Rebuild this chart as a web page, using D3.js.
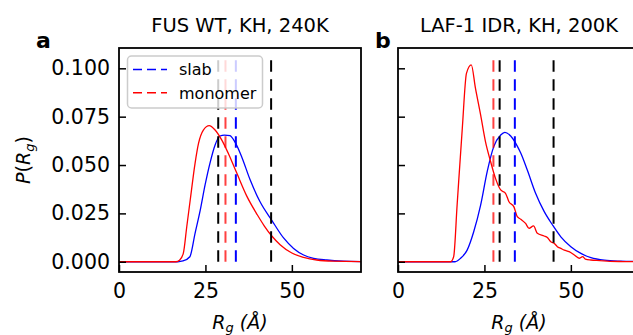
<!DOCTYPE html>
<html>
<head>
<meta charset="utf-8">
<script src="https://cdn.jsdelivr.net/npm/d3@7"></script>
<style>
  body { margin: 0; background: #fff; }
  svg { display: block; font-family: "DejaVu Sans", sans-serif; }
</style>
</head>
<body>
<div id="chart"></div>
<script>
// panel a: FUS WT, KH, 240K
const slabA_x = [0, 17, 18.5, 20.5, 22, 23.5, 24.9, 26.3, 27.8, 29.2, 30.5, 32.1, 33.6, 35.5, 37.9, 40.8, 44.2, 47.6, 50.5, 53.4, 56.3, 60.1, 64.9, 70];
const slabA_p = [0, 0, 0.0004, 0.0026, 0.0147, 0.0267, 0.0397, 0.0509, 0.0604, 0.065, 0.0655, 0.0652, 0.0617, 0.0542, 0.0425, 0.031, 0.0214, 0.0123, 0.0069, 0.0035, 0.0018, 0.0009, 0.0003, 0.0001];
const monoA_x = [0, 16.5, 17.5, 18.6, 19.6, 20.6, 22, 23, 24.4, 26.1, 27.8, 29.7, 31.6, 34.1, 37, 40, 42, 44.2, 46.6, 50, 53.4, 57.2, 62, 70];
const monoA_p = [0, 0, 0.0008, 0.0043, 0.0181, 0.0319, 0.0509, 0.0612, 0.0681, 0.0704, 0.0681, 0.063, 0.0561, 0.0457, 0.0338, 0.0243, 0.0186, 0.0133, 0.0088, 0.0045, 0.0023, 0.0009, 0.0003, 0.0001];

// panel b: LAF-1 IDR, KH, 200K
const slabB_x = [0, 16.5, 18.1, 20, 21.9, 23.9, 25.8, 27.7, 29.7, 30.9, 32.6, 34.5, 35.5, 37.4, 39.8, 42.3, 44.7, 47.1, 50, 52.9, 55.8, 59.7, 64.5, 70];
const slabB_p = [0, 0, 0.0018, 0.006, 0.0155, 0.0293, 0.0466, 0.0595, 0.0655, 0.0669, 0.065, 0.0598, 0.0562, 0.0474, 0.0354, 0.0259, 0.019, 0.0129, 0.0078, 0.0043, 0.0021, 0.0008, 0.0003, 0.0001];
const monoB_x = [0, 15.2, 16.1, 17.1, 18.6, 19.8, 21.2, 22.4, 23.9, 25.3, 26.8, 28.2, 29.7, 31.1, 32.1, 33.5, 34.5, 35.5, 36.9, 37.9, 39.2, 40.3, 42.3, 43.2, 44.2, 45.2, 46.1, 47.1, 48.1, 49.5, 51, 52.4, 53.4, 54.2, 55.8, 58.4, 61.3, 65, 70];
const monoB_p = [0, 0, 0.0026, 0.0293, 0.069, 0.0974, 0.1018, 0.0897, 0.0759, 0.0621, 0.0517, 0.0431, 0.0371, 0.0354, 0.031, 0.0285, 0.0233, 0.022, 0.0198, 0.0173, 0.0185, 0.0147, 0.0133, 0.0125, 0.0103, 0.0095, 0.0078, 0.0069, 0.006, 0.0052, 0.0035, 0.0018, 0.0026, 0.0014, 0.0009, 0.0006, 0.0002, 0.0001, 0];

// vertical dashed markers [Rg, colour]
const vlinesA = [[28.7, "black"], [30.8, "red"], [33.8, "blue"], [44.0, "black"]];
const vlinesB = [[27.6, "red"], [29.4, "black"], [33.8, "blue"], [45.0, "black"]];

const titles = ["FUS WT, KH, 240K", "LAF-1 IDR, KH, 200K"];
const letters = ["a", "b"];
const yTicks = [0, 0.025, 0.05, 0.075, 0.1];
const xTicks = [0, 25, 50];
const legendLabels = [["slab", "blue"], ["monomer", "red"]];

const W = 633, H = 335;
const svg = d3.select("#chart").append("svg").attr("width", W).attr("height", H);

const panels = [
  { left: 119, slabX: slabA_x, slabP: slabA_p, monoX: monoA_x, monoP: monoA_p, vlines: vlinesA, labels: true },
  { left: 398, slabX: slabB_x, slabP: slabB_p, monoX: monoB_x, monoP: monoB_p, vlines: vlinesB, labels: false }
];
const axTop = 48, axBottom = 272, axW = 242;
const y = d3.scaleLinear().domain([-0.0053, 0.1105]).range([axBottom, axTop]);

panels.forEach((p, i) => {
  const x = d3.scaleLinear().domain([0, 70]).range([p.left, p.left + axW]);
  const g = svg.append("g");

  const line = d3.line().curve(d3.curveMonotoneX).x(d => x(d[0])).y(d => y(d[1]));
  g.append("path").datum(d3.zip(p.slabX, p.slabP))
    .attr("d", line).attr("fill", "none").attr("stroke", "blue").attr("stroke-width", 1.3);
  g.append("path").datum(d3.zip(p.monoX, p.monoP))
    .attr("d", line).attr("fill", "none").attr("stroke", "red").attr("stroke-width", 1.3);

  g.selectAll("line.vl").data(p.vlines).enter().append("line")
    .attr("x1", d => x(d[0])).attr("x2", d => x(d[0]))
    .attr("y1", y(0)).attr("y2", y(0.105))
    .attr("stroke", d => d[1])
    .attr("stroke-opacity", d => d[1] === "red" ? 0.75 : 1)
    .attr("stroke-width", 2)
    .attr("stroke-dasharray", "11.5,7.5");

  // axes with inward ticks
  const yAx = g.append("g").attr("transform", `translate(${p.left},0)`)
    .call(d3.axisLeft(y).tickValues(yTicks).tickSize(-7).tickPadding(9)
      .tickFormat(p.labels ? d3.format(".3f") : () => ""));
  const xAx = g.append("g").attr("transform", `translate(0,${axBottom})`)
    .call(d3.axisBottom(x).tickValues(xTicks).tickSize(-7).tickPadding(11).tickFormat(d3.format("d")));
  [yAx, xAx].forEach(a => {
    a.select(".domain").remove();
    a.selectAll("line").attr("stroke", "black").attr("stroke-width", 1.5);
    a.selectAll("text").attr("font-size", 20.5).attr("fill", "black")
      .attr("font-family", "DejaVu Sans, sans-serif");
  });

  g.append("rect").attr("x", p.left).attr("y", axTop).attr("width", axW).attr("height", axBottom - axTop)
    .attr("fill", "none").attr("stroke", "black").attr("stroke-width", 1.8);

  g.append("text").attr("x", p.left + axW / 2).attr("y", 32).attr("text-anchor", "middle")
    .attr("font-size", 19.5).text(titles[i]);
  g.append("text").attr("x", i === 0 ? 36 : 375).attr("y", 48)
    .attr("font-size", 22).attr("font-weight", "bold").text(letters[i]);

  const xl = g.append("text").attr("x", p.left + axW / 2).attr("y", 329)
    .attr("text-anchor", "middle").attr("font-size", 19).attr("font-style", "italic");
  xl.append("tspan").text("R");
  xl.append("tspan").attr("font-size", 13).attr("dy", 3).text("g");
  xl.append("tspan").attr("dy", -3).text("\u00a0(\u00c5)");
});

// y label
const yl = svg.append("text").attr("transform", "translate(30,160) rotate(-90)")
  .attr("text-anchor", "middle").attr("font-size", 19);
yl.append("tspan").attr("font-style", "italic").text("P");
yl.append("tspan").text("(");
yl.append("tspan").attr("font-style", "italic").text("R");
yl.append("tspan").attr("font-style", "italic").attr("font-size", 13).attr("dy", 4).text("g");
yl.append("tspan").attr("dy", -4).text(")");

// legend in panel a
const lg = svg.append("g");
lg.append("rect").attr("x", 127.5).attr("y", 56).attr("width", 135).attr("height", 52).attr("rx", 4)
  .attr("fill", "white").attr("fill-opacity", 0.8).attr("stroke", "#cccccc").attr("stroke-width", 1.5);
legendLabels.forEach((d, k) => {
  const yy = 69.5 + k * 23.3;
  lg.append("line").attr("x1", 133).attr("x2", 167).attr("y1", yy).attr("y2", yy)
    .attr("stroke", d[1]).attr("stroke-width", 1.5).attr("stroke-dasharray", "9,5");
  lg.append("text").attr("x", 179).attr("y", yy + 5.7).attr("font-size", 16).text(d[0]);
});
</script>
</body>
</html>
